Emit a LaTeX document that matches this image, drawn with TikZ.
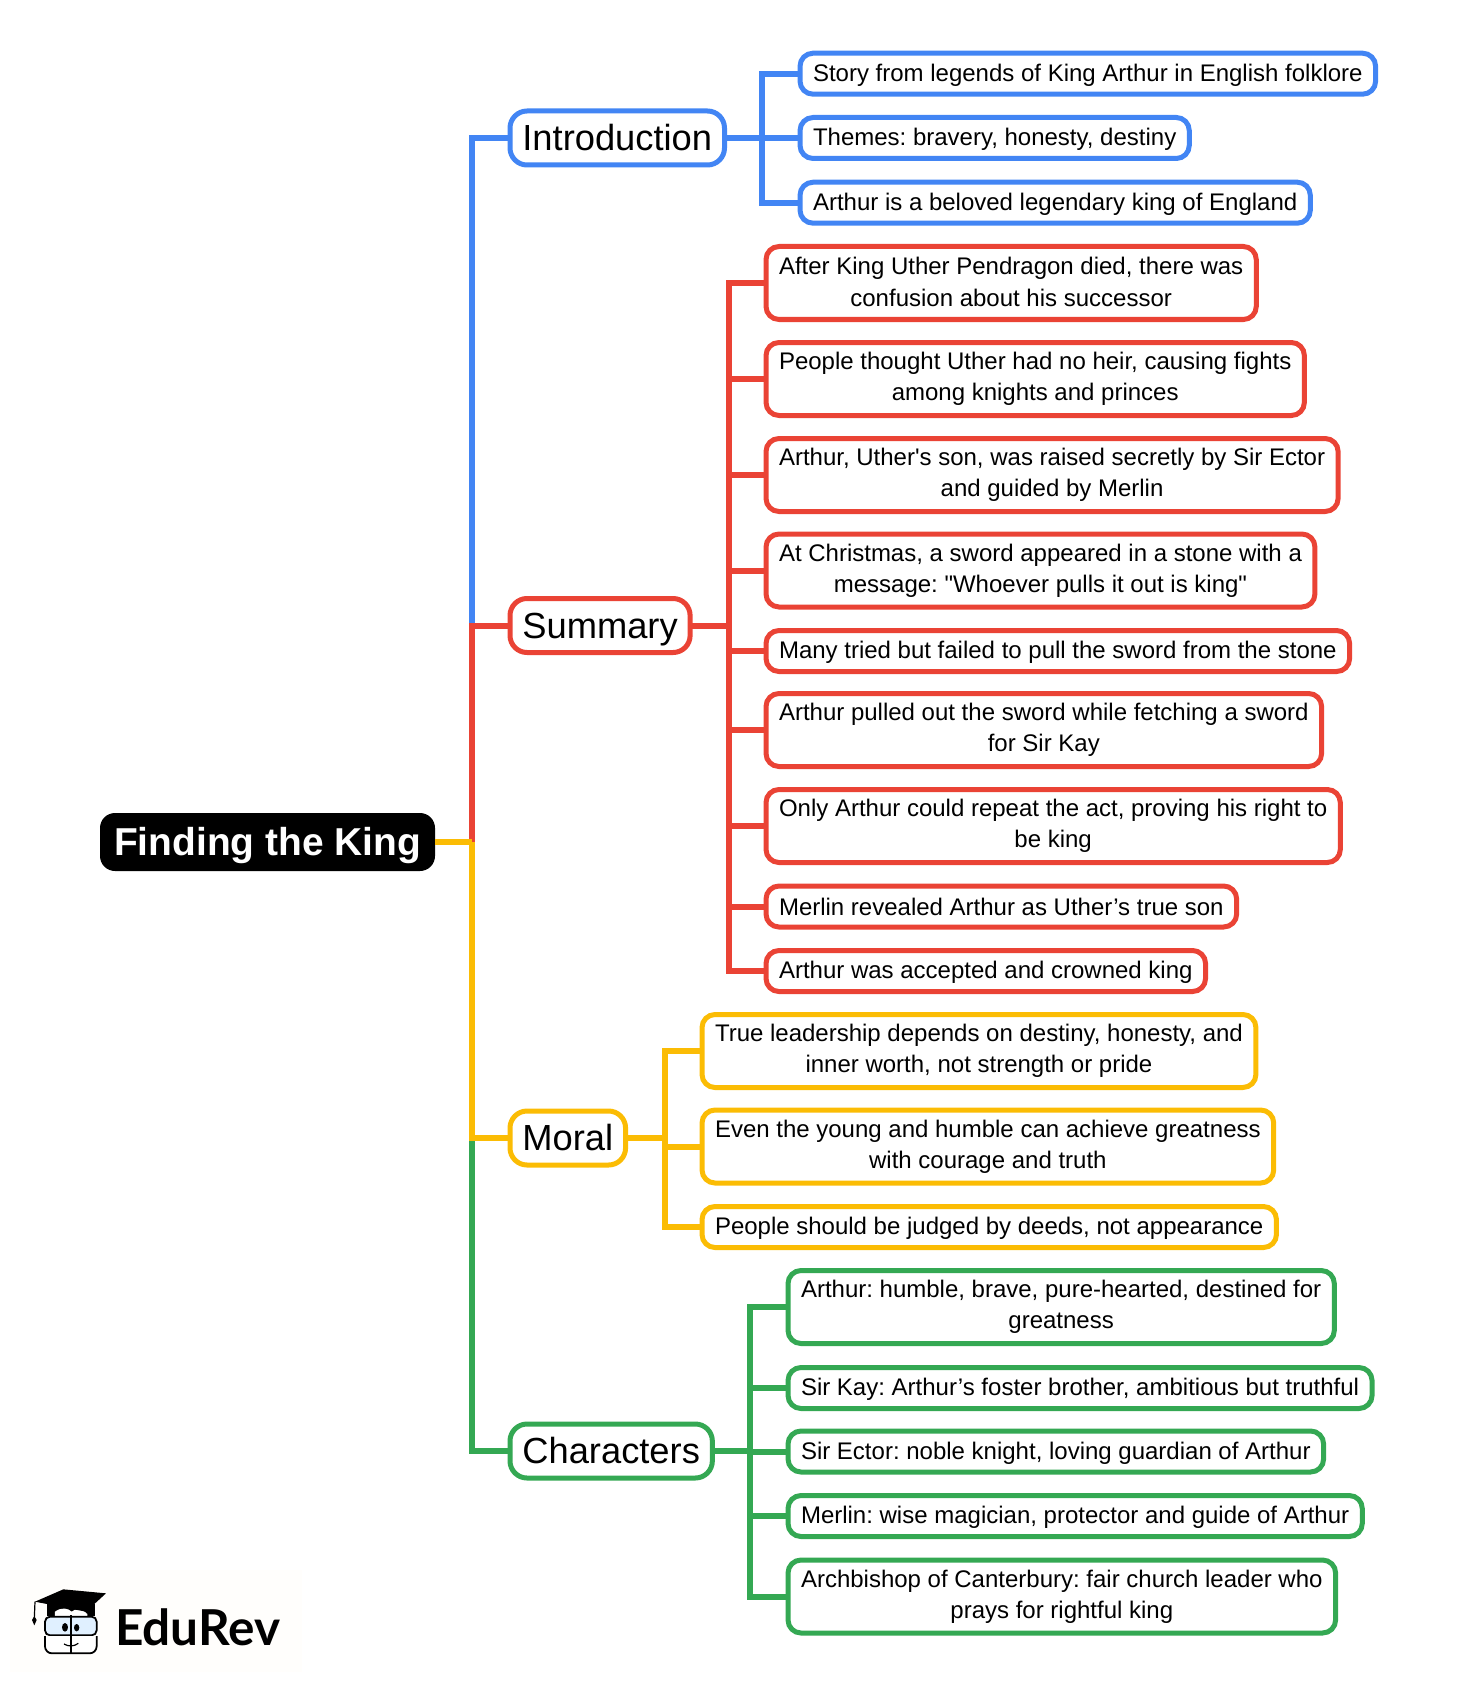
\documentclass[tikz,border=0pt]{standalone}
\usepackage{fontspec}
\setmainfont[Ligatures=TeXOff]{Liberation Sans}
\newfontfamily\logofont{Lato}
\frenchspacing
\definecolor{introcol}{HTML}{4285F4}
\definecolor{sumcol}{HTML}{EA4335}
\definecolor{moralcol}{HTML}{FBBC04}
\definecolor{charcol}{HTML}{34A853}
\tikzset{
  rootbox/.style={anchor=center,fill=black,text=white,rounded corners=15pt,minimum width=335pt,minimum height=58pt,inner sep=0pt,outer sep=0pt,font=\fontsize{38.9}{46}\selectfont\bfseries,text height=31pt,text depth=5pt},
  topicbox/.style={anchor=west,draw=#1,fill=white,line width=5pt,rounded corners=17pt,minimum height=54pt,inner xsep=12.4pt,inner ysep=0pt,outer sep=0pt,font=\fontsize{36.3}{44}\selectfont,text height=30pt,text depth=5pt},
  leafbox/.style={anchor=west,draw=#1,fill=white,line width=5pt,rounded corners=13pt,minimum height=41pt,inner xsep=13pt,inner ysep=0pt,outer sep=0pt,align=center,font=\fontsize{24}{31.4}\selectfont,
    execute at begin node={\rule{0pt}{20.5pt}},execute at end node={\rule[-2.5pt]{0pt}{2.5pt}}},
  tallbox/.style={leafbox=#1,minimum height=73pt},
  link/.style={draw=#1,line width=6pt,miter limit=10}
}
\begin{document}
\begin{tikzpicture}[x=1pt,y=-1pt]
  \useasboundingbox (0,0) rectangle (1478,1685);
  % the four main topics
  \node[rootbox] (root) at (267.5,842) {Finding the King};
  \node[topicbox=introcol] (intro) at (510,138) {Introduction};
  \node[topicbox=sumcol] (summary) at (510,625.5) {Summary};
  \node[topicbox=moralcol] (moral) at (510,1138) {Moral};
  \node[topicbox=charcol] (chars) at (510,1451) {Characters};
  % introduction
  \node[leafbox=introcol] (intro1) at (800,73.7) {Story from legends of King Arthur in English folklore};
  \node[leafbox=introcol] (intro2) at (800,138) {Themes: bravery, honesty, destiny};
  \node[leafbox=introcol] (intro3) at (800,202.7) {Arthur is a beloved legendary king of England};
  % summary
  \node[tallbox=sumcol] (sum1) at (766,283) {After King Uther Pendragon died, there was\\confusion about his successor};
  \node[tallbox=sumcol] (sum2) at (766,379) {People thought Uther had no heir, causing fights\\among knights and princes};
  \node[tallbox=sumcol] (sum3) at (766,475) {Arthur, Uther's son, was raised secretly by Sir Ector\\and guided by Merlin};
  \node[tallbox=sumcol] (sum4) at (766,570.5) {At Christmas, a sword appeared in a stone with a\\message: "Whoever pulls it out is king"};
  \node[leafbox=sumcol] (sum5) at (766,651) {Many tried but failed to pull the sword from the stone};
  \node[tallbox=sumcol] (sum6) at (766,730) {Arthur pulled out the sword while fetching a sword\\for Sir Kay};
  \node[tallbox=sumcol] (sum7) at (766,826) {Only Arthur could repeat the act, proving his right to\\be king};
  \node[leafbox=sumcol] (sum8) at (766,906.5) {Merlin revealed Arthur as Uther’s true son};
  \node[leafbox=sumcol] (sum9) at (766,971) {Arthur was accepted and crowned king};
  % moral
  \node[tallbox=moralcol] (moral1) at (702,1051) {True leadership depends on destiny, honesty, and\\inner worth, not strength or pride};
  \node[tallbox=moralcol] (moral2) at (702,1146.5) {Even the young and humble can achieve greatness\\with courage and truth};
  \node[leafbox=moralcol] (moral3) at (702,1227) {People should be judged by deeds, not appearance};
  % characters
  \node[tallbox=charcol] (char1) at (788,1307) {Arthur: humble, brave, pure-hearted, destined for\\greatness};
  \node[leafbox=charcol] (char2) at (788,1388) {Sir Kay: Arthur’s foster brother, ambitious but truthful};
  \node[leafbox=charcol] (char3) at (788,1451.5) {Sir Ector: noble knight, loving guardian of Arthur};
  \node[leafbox=charcol] (char4) at (788,1516) {Merlin: wise magician, protector and guide of Arthur};
  \node[tallbox=charcol] (char5) at (788,1596.5) {Archbishop of Canterbury: fair church leader who\\prays for rightful king};
  % main spine
  \coordinate (spine) at (472,842);
  \coordinate (spinesum) at (472,625.5);
  \coordinate (spinemoral) at (472,1138);
  \draw[link=introcol] (spinesum) |- (intro.west);
  \draw[link=sumcol] (spine) -- (spinesum) -- (summary.west);
  \draw[link=charcol] (spinemoral) |- (chars.west);
  \draw[link=moralcol] (spine) -- (spinemoral) -- (moral.west);
  \draw[link=moralcol] (root.east) -- (spine);
  % branch lines
  \coordinate (busintro) at (762,138);
  \foreach \n in {1,2,3}
    \draw[link=introcol] (busintro) |- (intro\n.west);
  \draw[link=introcol] (intro.east) -- (busintro);
  \coordinate (bussum) at (729,625.5);
  \foreach \n in {1,...,9}
    \draw[link=sumcol] (bussum) |- (sum\n.west);
  \draw[link=sumcol] (summary.east) -- (bussum);
  \coordinate (busmoral) at (665,1138);
  \foreach \n in {1,2,3}
    \draw[link=moralcol] (busmoral) |- (moral\n.west);
  \draw[link=moralcol] (moral.east) -- (busmoral);
  \coordinate (buschar) at (750,1451);
  \foreach \n in {1,...,5}
    \draw[link=charcol] (buschar) |- (char\n.west);
  \draw[link=charcol] (chars.east) -- (buschar);
  % logo
  \fill[white!99!orange] (10,1570) rectangle (302,1672);
  \begin{scope}[shift={(0,1540)},x=0.3333pt,y=-0.3333pt]
   \fill[black] (140,192) rectangle (285,228);
   \fill[white] (165,215) .. controls (185,200) and (205,205) .. (215,215) .. controls (225,205) and (245,205) .. (262,222) -- (262,228) -- (165,228) -- cycle;
   \draw[black,line width=1.8pt,fill=blue!50!cyan!12,rounded corners=5pt] (135,230) rectangle (290,286);
   \draw[black,line width=1.8pt,fill=white,rounded corners=7pt] (135,288) -- (135,340) -- (290,340) -- (290,288);
   \draw[black,line width=1.8pt] (213,225) -- (213,342);
   \fill[black] (105,185) -- (190,148) -- (318,160) -- (258,215) -- cycle;
   \draw[black,line width=1.2pt] (105,185) -- (103,235);
   \fill[black] (103,228) -- (110,240) -- (103,256) -- (96,240) -- cycle;
   \fill[black] (195,262) ellipse (9 and 13);
   \fill[black] (230,263) ellipse (8 and 11);
   \draw[black,line width=1.2pt] (192,312) .. controls (205,320) and (222,320) .. (235,310);
  \end{scope}
  \node[anchor=base west,inner sep=0pt,text=black,font=\fontsize{49.5}{52}\selectfont\logofont\bfseries] (brand) at (115,1645) {EduRev};
\end{tikzpicture}
\end{document}
